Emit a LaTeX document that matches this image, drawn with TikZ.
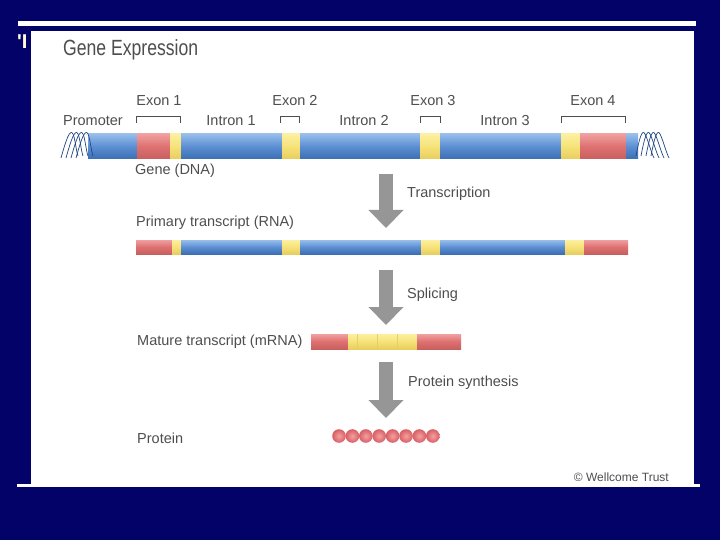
\documentclass[tikz,border=0pt]{standalone}
\usepackage{fontspec}
\setmainfont{Liberation Sans}
\newfontfamily\titlefont{Liberation Sans}[FakeStretch=0.8]
\usepackage{tikz}
\usetikzlibrary{arrows.meta,positioning}

\definecolor{slide}{RGB}{2,2,104}
\definecolor{labelgray}{RGB}{78,78,78}
\definecolor{arrowgray}{RGB}{150,150,150}
\definecolor{introntop}{RGB}{150,190,235}
\definecolor{intronmid}{RGB}{92,142,210}
\definecolor{intronbot}{RGB}{60,110,180}
\definecolor{utrtop}{RGB}{240,160,160}
\definecolor{utrmid}{RGB}{222,112,112}
\definecolor{utrbot}{RGB}{200,95,95}
\definecolor{exontop}{RGB}{252,240,160}
\definecolor{exonmid}{RGB}{246,226,120}
\definecolor{exonbot}{RGB}{232,205,95}
\definecolor{coilblue}{RGB}{30,70,130}
\definecolor{beadin}{RGB}{245,160,160}
\definecolor{beadout}{RGB}{215,95,100}

\tikzset{
  lbl/.style={font=\fontsize{14.5}{15}\selectfont, text=labelgray, inner sep=0pt},
  intron/.style={top color=introntop, bottom color=intronbot, middle color=intronmid},
  exon/.style={top color=exontop, bottom color=exonbot, middle color=exonmid},
  utr/.style={top color=utrtop, bottom color=utrbot, middle color=utrmid},
  bracket/.style={draw=labelgray, line width=0.8pt},
  coil/.style={draw=coilblue, line width=0.7pt},
  flow/.style={draw=arrowgray, line width=14pt, -{Triangle[width=34pt,length=18pt]}},
}

\begin{document}
\begin{tikzpicture}[x=1pt, y=-1pt]
  \fill[slide] (0,0) rectangle (720,540);
  \useasboundingbox (0,0) rectangle (720,540);
  \fill[white] (18,21) rectangle (696,26);
  \fill[white] (17,484) rectangle (700,487);
  \fill[white] (31,31) rectangle (694,487);
  \node (frag) [anchor=north west, inner sep=0pt, text=white!85!yellow, font=\fontsize{20}{20}\bfseries] at (17,35) {\textquotesingle I};

  \node (title) [anchor=west, inner sep=0pt, text=labelgray, font=\titlefont\fontsize{22}{22}\selectfont] at (63,50) {Gene Expression};

  % gene (DNA)
  \foreach \a/\b/\s in {88/137/intron, 137/170/utr, 170/181/exon, 181/282/intron, 282/300/exon,
      300/420/intron, 420/440/exon, 440/561/intron, 561/580/exon, 580/626/utr, 626/638/intron}
    \path[\s] (\a,134) rectangle (\b,159);
  \foreach \i in {0,1,2,3}
    \draw[coil] (61+5*\i,158) .. controls (66+5*\i,140) and (70+5*\i,128) .. (73+5*\i,134)
      .. controls (75+5*\i,138) and (76+5*\i,150) .. (78+5*\i,156);
  \foreach \i in {0,1,2,3}
    \draw[coil] (636+5*\i,156) .. controls (639+5*\i,140) and (642+5*\i,128) .. (645+5*\i,134)
      .. controls (648+5*\i,140) and (651+5*\i,152) .. (654+5*\i,158);

  \draw[bracket] (136,123) |- (180,116) -- (180,123);
  \draw[bracket] (280,123) |- (299,116) -- (299,123);
  \draw[bracket] (420,123) |- (440,116) -- (440,123);
  \draw[bracket] (561,123) |- (625,116) -- (625,123);

  \node (ex1) [lbl] at (159,101) {Exon 1};
  \node (ex2) [lbl] at (295,101) {Exon 2};
  \node (ex3) [lbl] at (433,101) {Exon 3};
  \node (ex4) [lbl] at (593,101) {Exon 4};
  \node (prom) [lbl] at (93,121) {Promoter};
  \node (in1) [lbl] at (231,121) {Intron 1};
  \node (in2) [lbl] at (364,121) {Intron 2};
  \node (in3) [lbl] at (505,121) {Intron 3};
  \node (dna) [lbl, anchor=west] at (135,171) {Gene (DNA)};

  % primary transcript
  \node (rna) [lbl, anchor=west] at (136,223) {Primary transcript (RNA)};
  \foreach \a/\b/\s in {136/172/utr, 172/181/exon, 181/282/intron, 282/300/exon, 300/421/intron,
      421/440/exon, 440/565/intron, 565/584/exon, 584/628/utr}
    \path[\s] (\a,240) rectangle (\b,254);

  % mature transcript
  \node (mrna) [lbl, anchor=west] at (137,342) {Mature transcript (mRNA)};
  \foreach \a/\b/\s in {311/348/utr, 348/417/exon, 417/461/utr}
    \path[\s] (\a,334) rectangle (\b,349);
  \foreach \x in {357,377,397}
    \draw[exonbot, line width=0.6pt] (\x,334) -- (\x,349);

  % protein
  \node (prot) [lbl, anchor=west] at (137,438) {Protein};
  \foreach \i in {0,...,7}
    \shade[inner color=beadin, outer color=beadout] (339+13.4*\i,436) circle (6.8);

  % steps
  \coordinate (trS) at (386,174);
  \coordinate (trE) at (386,228);
  \coordinate (spS) at (386,270);
  \coordinate (spE) at (386,325);
  \coordinate (psS) at (386,362);
  \coordinate (psE) at (386,418);
  \draw[flow] (trS) -- (trE);
  \draw[flow] (spS) -- (spE);
  \draw[flow] (psS) -- (psE);
  \node (tr) [lbl, anchor=west] at (407,194) {Transcription};
  \node (sp) [lbl, anchor=west] at (407,295) {Splicing};
  \node (ps) [lbl, anchor=west] at (408,383) {Protein synthesis};

  \node (credit) [lbl, anchor=east, font=\fontsize{12}{12}\selectfont] at (669,477) {\textcopyright\ Wellcome Trust};
\end{tikzpicture}
\end{document}
